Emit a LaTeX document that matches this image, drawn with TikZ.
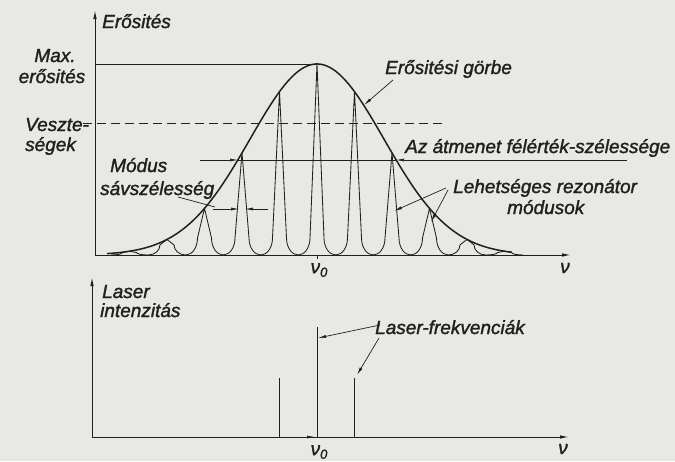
\documentclass[tikz,border=0pt]{standalone}
\usepackage{fontspec}
\setmainfont{Liberation Sans}
\newfontfamily\lblfont{Liberation Sans}[FakeBold=1.5]
\usetikzlibrary{arrows.meta}
\definecolor{paper}{RGB}{232,232,228}
\definecolor{ink}{RGB}{32,32,32}
\begin{document}
\begin{tikzpicture}[x=1pt,y=-1pt,
  lbl/.style={font=\lblfont\itshape\fontsize{19}{21}\selectfont, text=ink, inner sep=0pt},
  axisline/.style={draw=ink, line width=1pt, -{Latex[length=9pt,width=3.5pt]}},
  thinline/.style={draw=ink, line width=0.8pt},
  dashline/.style={draw=ink, line width=0.9pt, dash pattern=on 9pt off 5pt},
  leader/.style={draw=ink, line width=0.7pt, -{Latex[length=8pt,width=3pt]}},
  gainline/.style={draw=ink, line width=1.5pt},
  modeline/.style={draw=ink, line width=0.85pt, line join=round}
]
\fill[paper] (0,0) rectangle (675,461);

% ---------- top plot ----------
\coordinate (o1) at (95,255);
\coordinate (ytop1) at (95,10);
\coordinate (xend1) at (571,255);
\draw[axisline] (o1) -- (ytop1);
\draw[axisline] (o1) -- (xend1);

% resonator modes
\foreach \k in {-5,...,5} {
  \pgfmathsetmacro{\xk}{317+37.5*\k}
  \pgfmathsetmacro{\hk}{191*exp(-0.5*((37.5*\k)/67)^2)}
  \pgfmathsetmacro{\rk}{min(17,0.65*\hk)}
  \draw[modeline] (\xk-18.75,255)
    .. controls (\xk-12.26,255) and (\xk-7,255-0.448*\rk) .. (\xk-7,255-\rk)
    -- (\xk,255-\hk)
    -- (\xk+7,255-\rk)
    .. controls (\xk+7,255-0.448*\rk) and (\xk+12.26,255) .. (\xk+18.75,255);
}
% gain curve
\draw[gainline] plot[domain=107:512, samples=220, smooth]
  (\x, {255 - 191*exp(-0.5*((\x-317)/67)^2)});

% nu0 tick
\coordinate (t1a) at (317,255);
\coordinate (t1b) at (317,259);
\draw[modeline] (t1a) -- (t1b);

% max gain line
\coordinate (maxl) at (95,64);
\coordinate (maxr) at (317,64);
\draw[thinline] (maxl) -- (maxr);

% losses dashed line
\coordinate (lossl) at (83,123);
\coordinate (lossr) at (443,123);
\draw[dashline] (lossl) -- (lossr);

% FWHM line
\coordinate (fwa) at (200,160);
\coordinate (fwl) at (238,160);
\coordinate (fwr) at (396,160);
\coordinate (fwb) at (627,160);
\draw[leader] (fwa) -- (fwl);
\draw[thinline] (fwl) -- (fwr);
\draw[leader] (fwb) -- (fwr);

% mode bandwidth indicator
\coordinate (mba) at (213,209);
\coordinate (mbl) at (239,209);
\coordinate (mbr) at (245,209);
\coordinate (mbb) at (268,209);
\draw[leader] (mba) -- (mbl);
\draw[leader] (mbb) -- (mbr);
\coordinate (mls) at (178,197);
\coordinate (mle) at (215,207);
\draw[thinline, line width=0.7pt] (mls) -- (mle);

% gain curve leader
\coordinate (gls) at (393,80);
\coordinate (gle) at (364,105);
\draw[leader] (gls) -- (gle);

% resonator modes leaders
\coordinate (rls1) at (446,188);
\coordinate (rle1) at (394,211);
\coordinate (rls2) at (448,190);
\coordinate (rle2) at (431,222);
\draw[leader] (rls1) -- (rle1);
\draw[leader] (rls2) -- (rle2);

% labels top
\node[lbl, anchor=base west] (erosites) at (102,28) {Erősités};
\node[lbl, anchor=base] (maxa) at (55,62) {Max.};
\node[lbl, anchor=base] (maxb) at (52,83) {erősités};
\node[lbl, anchor=base west] (veszta) at (25,131) {Veszte-};
\node[lbl, anchor=base west] (vesztb) at (25,151) {ségek};
\node[lbl, anchor=base west] (moda) at (110,172) {Módus};
\node[lbl, anchor=base west] (modb) at (100,195) {sávszélesség};
\node[lbl, anchor=base west] (gorbe) at (385,74) {Erősitési görbe};
\node[lbl, anchor=base west] (atmenet) at (405,153) {Az átmenet félérték-szélessége};
\node[lbl, anchor=base west] (reza) at (453,193) {Lehetséges rezonátor};
\node[lbl, anchor=base west] (rezb) at (507,214) {módusok};
\node[lbl] (nu1) at (565,268) {ν};
\node[lbl] (nu01) at (319,270) {ν\raisebox{-0.35ex}{\fontsize{13}{13}\selectfont 0}};

% ---------- bottom plot ----------
\coordinate (o2) at (92,437);
\coordinate (ytop2) at (92,277);
\coordinate (xend2) at (569,437);
\draw[axisline] (o2) -- (ytop2);
\draw[axisline] (o2) -- (xend2);

\coordinate (l0a) at (317,437);
\coordinate (l0b) at (317,327);
\coordinate (l1a) at (279.5,437);
\coordinate (l1b) at (279.5,378);
\coordinate (l2a) at (354.5,437);
\coordinate (l2b) at (354.5,378);
\draw[thinline, line width=1pt] (l0a) -- (l0b);
\draw[thinline, line width=1pt] (l1a) -- (l1b);
\draw[thinline, line width=1pt] (l2a) -- (l2b);

\coordinate (sma) at (300,437);
\coordinate (smb) at (315,437);
\draw[leader] (sma) -- (smb);

\coordinate (lfs1) at (380,325);
\coordinate (lfe1) at (318,338);
\coordinate (lfs2) at (379,338);
\coordinate (lfe2) at (357,375);
\draw[leader] (lfs1) -- (lfe1);
\draw[leader] (lfs2) -- (lfe2);

\node[lbl, anchor=base west] (lasa) at (102,298) {Laser};
\node[lbl, anchor=base west] (lasb) at (100,317) {intenzitás};
\node[lbl, anchor=base west] (lfrek) at (375,334) {Laser-frekvenciák};
\node[lbl] (nu2) at (563,449) {ν};
\node[lbl] (nu02) at (319,452) {ν\raisebox{-0.35ex}{\fontsize{13}{13}\selectfont 0}};
\end{tikzpicture}
\end{document}
